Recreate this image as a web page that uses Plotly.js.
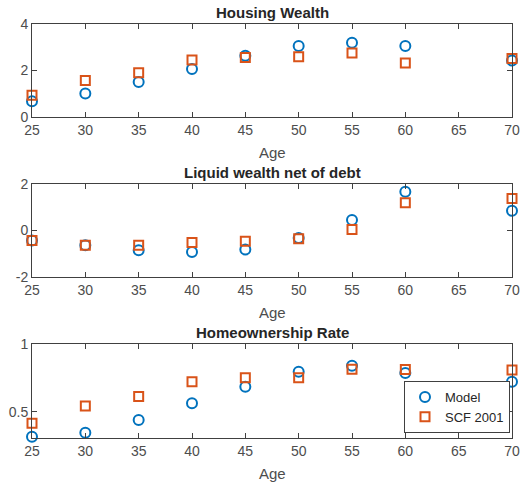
<!DOCTYPE html>
<html>
<head>
<meta charset="utf-8">
<script src="https://cdn.plot.ly/plotly-3.0.1.min.js"></script>
<style>html,body{margin:0;padding:0;background:#fff;}#chart{width:521px;height:483px;}</style>
</head>
<body>
<div id="chart"></div>
<script>
const ages = [25, 30, 35, 40, 45, 50, 55, 60, 70];
const housingModel = [0.68, 1.01, 1.51, 2.06, 2.63, 3.05, 3.19, 3.05, 2.43];
const housingSCF = [0.94, 1.57, 1.90, 2.45, 2.56, 2.59, 2.75, 2.32, 2.52];
const liquidModel = [-0.43, -0.63, -0.85, -0.92, -0.82, -0.32, 0.45, 1.67, 0.85];
const liquidSCF = [-0.43, -0.63, -0.63, -0.52, -0.46, -0.36, 0.04, 1.19, 1.38];
const ownModel = [0.318, 0.347, 0.441, 0.564, 0.685, 0.796, 0.840, 0.786, 0.722];
const ownSCF = [0.416, 0.544, 0.613, 0.722, 0.751, 0.751, 0.815, 0.813, 0.808];
const xTicks = [25, 30, 35, 40, 45, 50, 55, 60, 65, 70];
const titles = ['Housing Wealth', 'Liquid wealth net of debt', 'Homeownership Rate'];
const seriesNames = ['Model', 'SCF 2001'];

const blue = '#0072BD', orange = '#D95319';
const FONT = 'Liberation Sans, Arial, sans-serif';
const modelSets = [housingModel, liquidModel, ownModel];
const scfSets = [housingSCF, liquidSCF, ownSCF];
const traces = [];
for (let i = 0; i < 3; i++) {
  const xa = i === 0 ? 'x' : 'x' + (i + 1);
  const ya = i === 0 ? 'y' : 'y' + (i + 1);
  traces.push({x: ages, y: modelSets[i], xaxis: xa, yaxis: ya, type: 'scatter', mode: 'markers',
    name: seriesNames[0], showlegend: i === 2, cliponaxis: false,
    marker: {symbol: 'circle-open', size: 10, color: blue, line: {width: 2, color: blue}}});
  traces.push({x: ages, y: scfSets[i], xaxis: xa, yaxis: ya, type: 'scatter', mode: 'markers',
    name: seriesNames[1], showlegend: i === 2, cliponaxis: false,
    marker: {symbol: 'square-open', size: 9, color: orange, line: {width: 2, color: orange}}});
}

const W = 521, H = 483;
const xd = [32 / W, 512 / W];
const ydoms = [[1 - 117 / H, 1 - 24 / H], [1 - 277 / H, 1 - 184 / H], [1 - 438 / H, 1 - 344 / H]];
const yranges = [[0, 4], [-2, 2], [0.308, 1]];
const ytickvals = [[0, 2, 4], [-2, 0, 2], [0.5, 1]];
const yticktext = [['0', '2', '4'], ['-2', '0', '2'], ['0.5', '1']];

const axCommon = {showline: true, linecolor: '#404040', linewidth: 1, mirror: 'ticks', ticks: 'inside',
  ticklen: 5, tickcolor: '#404040', showgrid: false, zeroline: false,
  tickfont: {family: FONT, size: 14, color: '#4d4d4d'}};

const layout = {width: W, height: H, margin: {l: 0, r: 0, t: 0, b: 0}, paper_bgcolor: '#fff',
  plot_bgcolor: '#fff', showlegend: true,
  legend: {x: 404 / W, y: 1 - 381 / H, xanchor: 'left', yanchor: 'top', bgcolor: '#fff',
    bordercolor: '#404040', borderwidth: 1, font: {family: FONT, size: 13, color: '#262626'},
    tracegroupgap: 0, itemwidth: 30},
  annotations: []};
for (let i = 0; i < 3; i++) {
  const sfx = i === 0 ? '' : String(i + 1);
  layout['xaxis' + sfx] = Object.assign({}, axCommon, {domain: xd, range: [25, 70], tickvals: xTicks,
    ticktext: xTicks.map(String), anchor: 'y' + sfx});
  layout['yaxis' + sfx] = Object.assign({}, axCommon, {domain: ydoms[i], range: yranges[i],
    tickvals: ytickvals[i], ticktext: yticktext[i], anchor: 'x' + sfx});
  layout.annotations.push({text: '<b>' + titles[i] + '</b>', xref: 'paper', yref: 'paper',
    x: (xd[0] + xd[1]) / 2, y: ydoms[i][1], yanchor: 'bottom', yshift: 1, showarrow: false,
    font: {family: FONT, size: 15, color: '#262626'}});
  layout.annotations.push({text: 'Age', xref: 'paper', yref: 'paper',
    x: (xd[0] + xd[1]) / 2, y: ydoms[i][0], yanchor: 'top', yshift: -25, showarrow: false,
    font: {family: FONT, size: 15, color: '#4d4d4d'}});
}
Plotly.newPlot('chart', traces, layout, {displayModeBar: false, staticPlot: true});
</script>
</body>
</html>
